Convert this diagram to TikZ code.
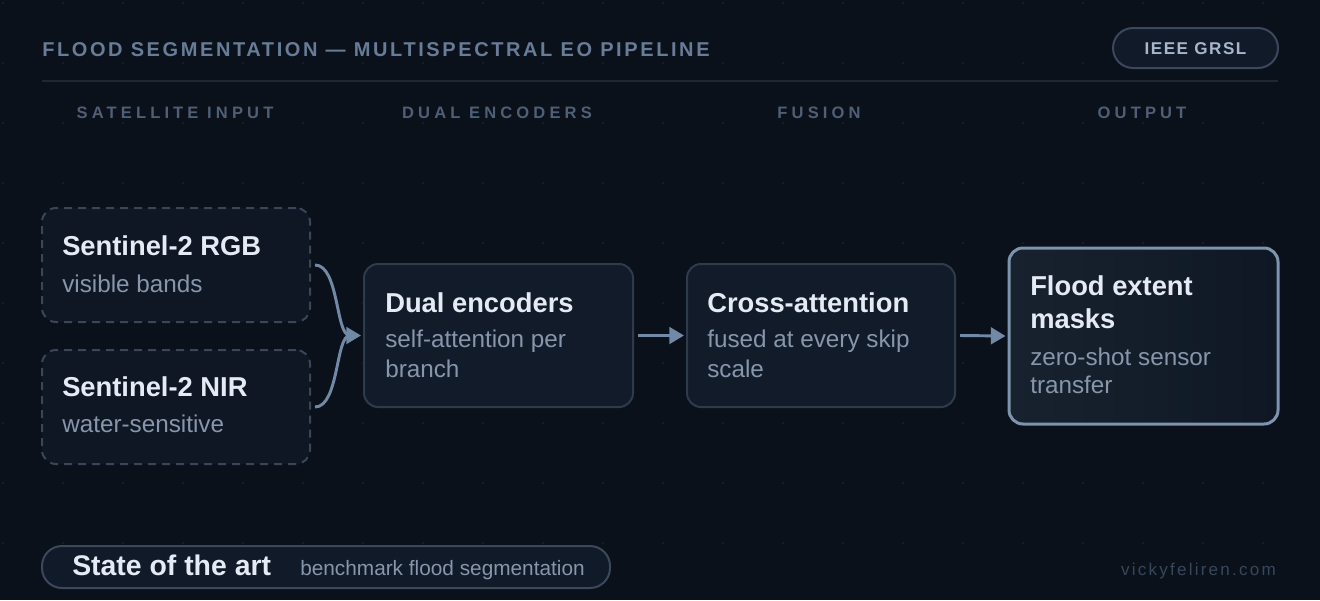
\documentclass[tikz,border=0pt]{standalone}
\usepackage{fontspec}
\setmainfont{Liberation Sans}
\newfontfamily\trackhead[LetterSpace=13]{Liberation Sans}
\newfontfamily\trackcol[LetterSpace=25]{Liberation Sans}
\newfontfamily\trackpill[LetterSpace=9]{Liberation Sans}
\newfontfamily\trackurl[LetterSpace=13]{Liberation Sans}
\usetikzlibrary{arrows.meta}
\definecolor{bgc}{HTML}{0B111A}
\definecolor{dotc}{HTML}{19212D}
\definecolor{rulec}{HTML}{1F2733}
\definecolor{headc}{HTML}{687C98}
\definecolor{colc}{HTML}{4E5F76}
\definecolor{boxfill}{HTML}{111B2A}
\definecolor{dashfill}{HTML}{0F1724}
\definecolor{boxline}{HTML}{2F3B4C}
\definecolor{dashline}{HTML}{3A4658}
\definecolor{hiline}{HTML}{7D93AE}
\definecolor{arrowc}{HTML}{7189A6}
\definecolor{titc}{HTML}{E4EBF4}
\definecolor{subc}{HTML}{8796AB}
\definecolor{pillfill}{HTML}{111A28}
\definecolor{pilltext}{HTML}{A8B6CA}
\definecolor{urlc}{HTML}{37475B}
\definecolor{hifillA}{HTML}{18222F}
\newdimen\px \px=0.75pt
\tikzset{
  card/.style={draw=boxline, line width=1.5pt, fill=boxfill, rounded corners=10.5pt, inner sep=0pt},
  dashcard/.style={draw=dashline, line width=1.5pt, fill=dashfill, rounded corners=10.5pt, inner sep=0pt, dash pattern=on 6pt off 4.5pt},
  hicard/.style={draw=hiline, line width=2.25pt, rounded corners=10.5pt, inner sep=0pt, left color=hifillA, right color=dashfill},
  pill/.style={draw=boxline!85!hiline, line width=1.5pt, fill=pillfill, rounded corners=15pt, inner sep=0pt},
  tit/.style={anchor=base west, inner sep=0pt, text=titc, font=\fontsize{20.5}{24}\selectfont\bfseries},
  sub/.style={anchor=base west, inner sep=0pt, text=subc, font=\fontsize{18.2}{22}\selectfont},
  colhead/.style={anchor=base, inner sep=0pt, text=colc, font=\trackcol\fontsize{12.4}{15}\selectfont\bfseries},
  flow/.style={draw=arrowc, line width=2.2pt, -{Triangle[length=11pt,width=12.5pt]}},
  curve/.style={draw=arrowc, line width=2.2pt}
}
\begin{document}
\begin{tikzpicture}[x=0.75pt,y=-0.75pt]
\fill[bgc] (0,0) rectangle (1320,600);
\useasboundingbox (0,0) rectangle (1320,600);
% dot grid
\foreach \i in {0,...,21}{\foreach \j in {0,...,9}{\fill[dotc] (3+60*\i,3+60*\j) circle (0.9pt);}}
% header
\node[anchor=base west, inner sep=0pt, text=headc, font=\trackhead\fontsize{15}{18}\selectfont\bfseries] (title) at (42,56) {FLOOD SEGMENTATION — MULTISPECTRAL EO PIPELINE};
\node[pill, minimum width=165\px, minimum height=40\px] (venue) at (1195.5,48) {};
\node[anchor=base, inner sep=0pt, text=pilltext, font=\trackpill\fontsize{12.8}{15}\selectfont\bfseries] (venuetxt) at (1195.5,54) {IEEE GRSL};
\draw[rulec, line width=1.5pt] (42,81) -- (1278,81);
% column heads
\node[colhead] (c1) at (175,118) {SATELLITE INPUT};
\node[colhead] (c2) at (497,118) {DUAL ENCODERS};
\node[colhead] (c3) at (819,118) {FUSION};
\node[colhead] (c4) at (1142,118) {OUTPUT};
% boxes
\node[dashcard, minimum width=268\px, minimum height=114\px] (rgb) at (176,265) {};
\node[dashcard, minimum width=268\px, minimum height=114\px] (nir) at (176,407) {};
\node[card, minimum width=269\px, minimum height=143\px] (dual) at (498.5,335.5) {};
\node[card, minimum width=268\px, minimum height=143\px] (cross) at (821,335.5) {};
\node[hicard, minimum width=269\px, minimum height=176\px] (flood) at (1143.5,336) {};
% texts
\node[tit] (t1) at (62,255) {Sentinel-2 RGB};
\node[sub] (s1) at (62,292) {visible bands};
\node[tit] (t2) at (62,396) {Sentinel-2 NIR};
\node[sub] (s2) at (62,432) {water-sensitive};
\node[tit] (t3) at (385,312) {Dual encoders};
\node[sub] (s3a) at (385,347) {self-attention per};
\node[sub] (s3b) at (385,377) {branch};
\node[tit] (t4) at (707,312) {Cross-attention};
\node[sub] (s4a) at (707,347) {fused at every skip};
\node[sub] (s4b) at (707,377) {scale};
\node[tit] (t5a) at (1030,295) {Flood extent};
\node[tit] (t5b) at (1030,328) {masks};
\node[sub] (s5a) at (1030,365) {zero-shot sensor};
\node[sub] (s5b) at (1030,393) {transfer};
% connectors
\draw[curve] ([xshift=3pt]rgb.east) .. controls +(24,0) and +(-14,0) .. ([xshift=-10pt]dual.west);
\draw[curve] ([xshift=3pt]nir.east) .. controls +(24,0) and +(-14,0) .. ([xshift=-10pt]dual.west);
\draw[flow] ([xshift=-11pt]dual.west) -- ([xshift=-1.5pt]dual.west);
\draw[flow] ([xshift=3pt]dual.east) -- ([xshift=-1.5pt]cross.west);
\draw[flow] ([xshift=3pt]cross.east) -- ([xshift=-1.5pt]flood.west);
% footer
\node[pill, minimum width=568\px, minimum height=42\px] (sota) at (326,567) {};
\node[anchor=base west, inner sep=0pt, text=titc, font=\fontsize{21.3}{25}\selectfont\bfseries] (sotat) at (72,575) {State of the art};
\node[anchor=base west, inner sep=0pt, text=subc, font=\fontsize{15.6}{19}\selectfont] (sotas) at (300,575) {benchmark flood segmentation};
\node[anchor=base east, inner sep=0pt, text=urlc, font=\trackurl\fontsize{12.8}{15}\selectfont] (url) at (1276,575) {vickyfeliren.com};
\end{tikzpicture}
\end{document}
